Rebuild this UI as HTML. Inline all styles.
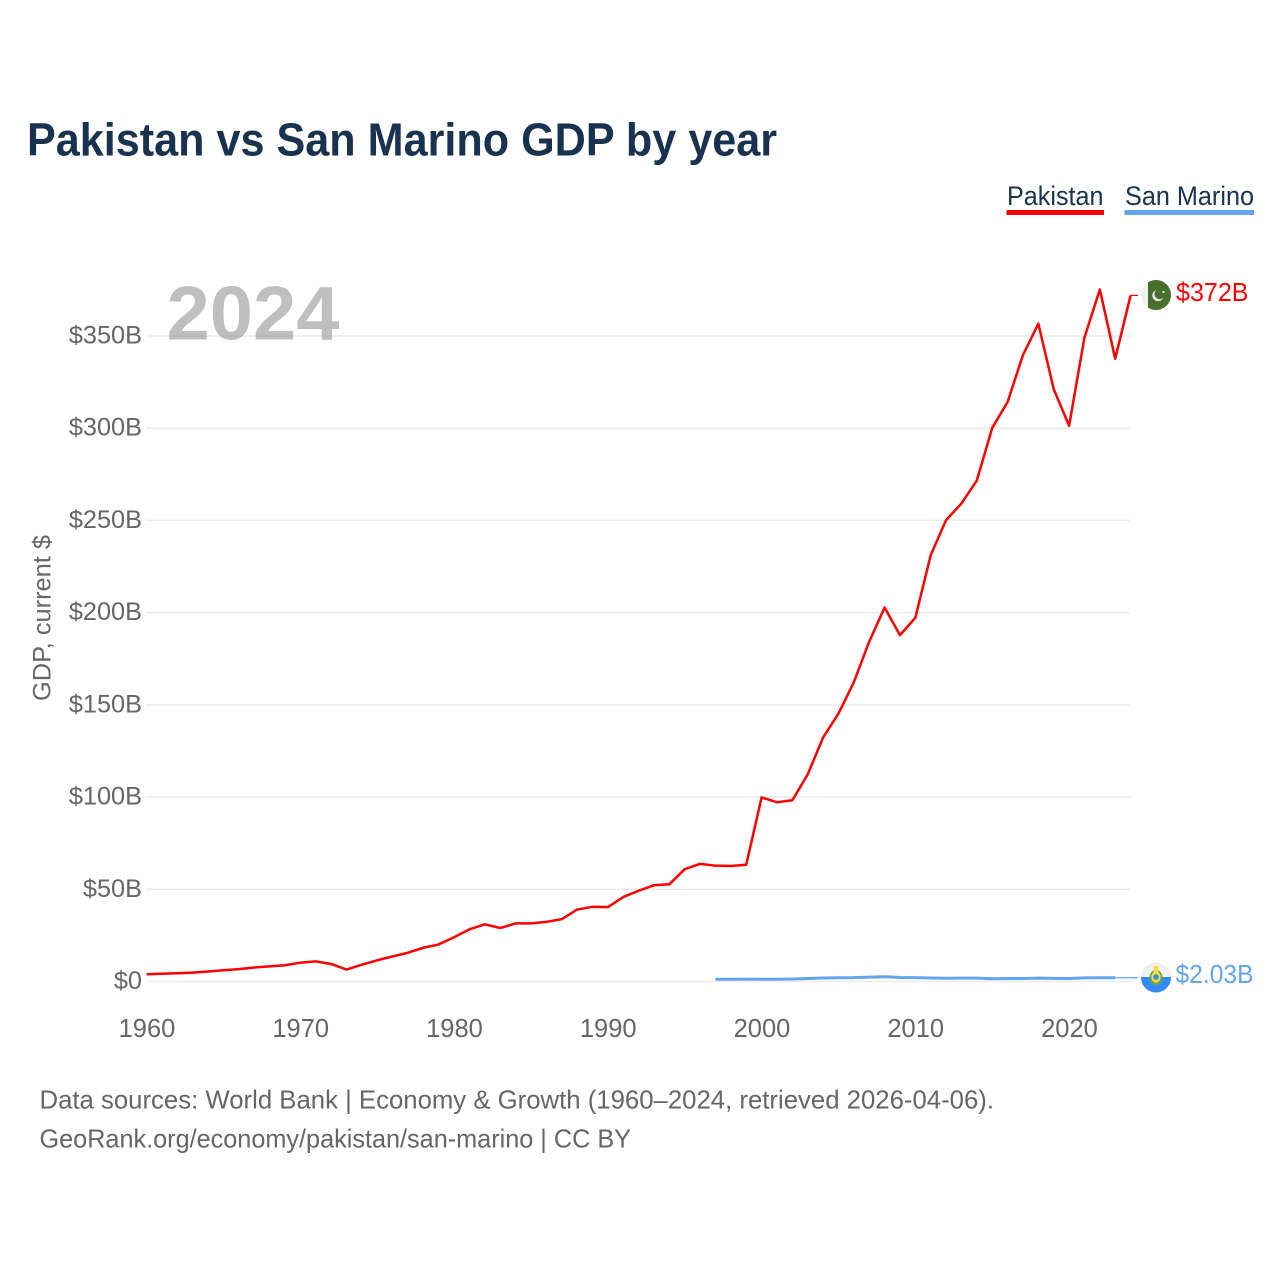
<!DOCTYPE html>
<html lang="en">
<head>
<meta charset="utf-8">
<title>Pakistan vs San Marino GDP by year</title>
<style>
html,body{margin:0;padding:0;background:#fff;}
svg{display:block;font-family:"Liberation Sans",sans-serif;}
</style>
</head>
<body>
<svg id="chart" width="1280" height="1280" viewBox="0 0 1280 1280" xmlns="http://www.w3.org/2000/svg">
  <defs>
    <clipPath id="clip-pk"><circle cx="1156" cy="295" r="15"/></clipPath>
    <clipPath id="clip-sm"><circle cx="1156" cy="977.5" r="15"/></clipPath>
  </defs>
  <text x="27" y="155.5" font-size="46" font-weight="700" fill="#18324f" textLength="750" lengthAdjust="spacingAndGlyphs">Pakistan vs San Marino GDP by year</text>
  <g id="grid"></g>
  <g id="yticks"></g>
  <g id="xticks"></g>
  <text x="166.5" y="339.5" font-size="76" font-weight="700" fill="#8a8a8a" fill-opacity="0.55" textLength="173" lengthAdjust="spacingAndGlyphs">2024</text>
  <text transform="translate(50.5,701) rotate(-90)" font-size="25" fill="#666" textLength="166" lengthAdjust="spacingAndGlyphs">GDP, current $</text>

  <g>
    <text x="1007" y="205" font-size="26.5" fill="#18324f" textLength="96.5" lengthAdjust="spacingAndGlyphs">Pakistan</text>
    <rect x="1006.5" y="210" width="97.5" height="5" fill="#ff0000"/>
  </g>
  <g>
    <text x="1125" y="205" font-size="26.5" fill="#18324f" textLength="129" lengthAdjust="spacingAndGlyphs">San Marino</text>
    <rect x="1124.5" y="210" width="129.5" height="5" fill="#62a5ee"/>
  </g>

  <path id="line-sm" fill="none" stroke="#62a5ee" stroke-width="3" stroke-linejoin="round"></path>
  <path id="line-pk" fill="none" stroke="#ff0000" stroke-width="2.5" stroke-linejoin="round"></path>
  <path id="conn-sm" fill="none" stroke="#62a5ee" stroke-width="1.2"></path>
  <path id="conn-pk" fill="none" stroke="#ff0000" stroke-width="1.2"></path>

  <g clip-path="url(#clip-pk)">
    <rect x="1141" y="280" width="30" height="30" fill="#f0f0f0"/>
    <rect x="1148" y="280" width="23" height="30" fill="#496e2d"/>
    <circle cx="1158" cy="295.5" r="5.6" fill="#f0f0f0"/>
    <circle cx="1159.6" cy="294" r="5.2" fill="#496e2d"/>
    <circle cx="1163.5" cy="292" r="1.1" fill="#f0f0f0"/>
  </g>
  <text id="label-pk" x="1176" y="301" font-size="25.5" fill="#ff0000" textLength="72.5" lengthAdjust="spacingAndGlyphs">$372B</text>

  <g clip-path="url(#clip-sm)">
    <rect x="1141" y="962" width="30" height="16" fill="#f0f0f0"/>
    <rect x="1141" y="977" width="30" height="16" fill="#338af3"/>
    <ellipse cx="1156" cy="977.5" rx="6.5" ry="7.5" fill="#6da544"/>
    <ellipse cx="1156" cy="977" rx="4.6" ry="5.6" fill="#ffda44"/>
    <circle cx="1156" cy="977" r="2.8" fill="#338af3"/>
    <rect x="1153.8" y="966" width="4.4" height="6" fill="#ffda44"/>
  </g>
  <text id="label-sm" x="1175.5" y="983" font-size="25.5" fill="#62a5ee" textLength="78" lengthAdjust="spacingAndGlyphs">$2.03B</text>

  <text x="39.5" y="1108.5" font-size="26" fill="#666" textLength="954.5" lengthAdjust="spacingAndGlyphs">Data sources: World Bank | Economy &amp; Growth (1960–2024, retrieved 2026-04-06).</text>
  <text x="39.5" y="1147.5" font-size="26" fill="#666" textLength="591.5" lengthAdjust="spacingAndGlyphs">GeoRank.org/economy/pakistan/san-marino | CC BY</text>
</svg>
<script>
const yTickValues = [0, 50, 100, 150, 200, 250, 300, 350];
const yTickLabels = ["$0", "$50B", "$100B", "$150B", "$200B", "$250B", "$300B", "$350B"];
const xTickYears = [1960, 1970, 1980, 1990, 2000, 2010, 2020];
const xTickLabels = ["1960", "1970", "1980", "1990", "2000", "2010", "2020"];
const pakistanStartYear = 1960;
const pakistanGdp = [3.9, 4.2, 4.5, 4.8, 5.4, 6.1, 6.7, 7.6, 8.2, 8.8, 10.2, 10.9, 9.5, 6.5, 9.1, 11.5, 13.6, 15.6, 18.3, 20.1, 24.0, 28.3, 31.0, 29.0, 31.5, 31.5, 32.3, 33.8, 39.0, 40.5, 40.3, 45.8, 49.2, 52.2, 52.7, 60.9, 63.8, 62.8, 62.6, 63.3, 99.8, 97.2, 98.3, 112.3, 132.3, 145.3, 162.3, 184.3, 202.8, 187.8, 197.2, 231.2, 250.2, 259.2, 271.7, 300.2, 314.2, 339.7, 356.7, 321.2, 301.3, 349.2, 375.2, 337.7, 372.0];
const sanMarinoStartYear = 1997;
const sanMarinoGdp = [1.2, 1.25, 1.3, 1.2, 1.25, 1.35, 1.6, 1.9, 2.0, 2.1, 2.4, 2.6, 2.2, 2.1, 1.9, 1.75, 1.8, 1.8, 1.5, 1.6, 1.65, 1.8, 1.7, 1.6, 1.95, 2.0, 2.03];

const svgNS = "http://www.w3.org/2000/svg";
function xScale(year) { return 146.6 + (year - 1960) * 15.375; }
function yScale(v) { return 981.5 - v * 1.8443; }
function linePath(start, values) {
  return values.map(function (v, i) {
    return (i ? "L" : "M") + xScale(start + i).toFixed(2) + " " + yScale(v).toFixed(2);
  }).join(" ");
}

const grid = document.getElementById("grid");
const yticks = document.getElementById("yticks");
yTickValues.forEach(function (v, i) {
  const ln = document.createElementNS(svgNS, "line");
  
  
  ln.setAttribute("x1", xScale(1960));
  ln.setAttribute("x2", xScale(2024));
  ln.setAttribute("y1", yScale(v));
  ln.setAttribute("y2", yScale(v));
  ln.setAttribute("stroke", "#ebebeb");
  ln.setAttribute("stroke-width", "1.5");
  grid.appendChild(ln);
  const t = document.createElementNS(svgNS, "text");
  
  
  t.setAttribute("x", 142);
  t.setAttribute("y", yScale(v) + 7.5);
  t.setAttribute("text-anchor", "end");
  t.setAttribute("font-size", "25.3");
  t.setAttribute("fill", "#666");
  t.textContent = yTickLabels[i];
  yticks.appendChild(t);
});

const xticks = document.getElementById("xticks");
xTickYears.forEach(function (yr, i) {
  const t = document.createElementNS(svgNS, "text");
  
  
  t.setAttribute("x", xScale(yr) + 0.4);
  t.setAttribute("y", 1037);
  t.setAttribute("text-anchor", "middle");
  t.setAttribute("font-size", "25.5");
  t.setAttribute("fill", "#666");
  t.textContent = xTickLabels[i];
  xticks.appendChild(t);
});

document.getElementById("line-pk").setAttribute("d", linePath(pakistanStartYear, pakistanGdp));
document.getElementById("line-sm").setAttribute("d", linePath(sanMarinoStartYear, sanMarinoGdp));

const pkLast = pakistanGdp[pakistanGdp.length - 1];
const smLast = sanMarinoGdp[sanMarinoGdp.length - 1];
const pkEndX = xScale(pakistanStartYear + pakistanGdp.length - 1);
const smEndX = xScale(sanMarinoStartYear + sanMarinoGdp.length - 1);
document.getElementById("conn-pk").setAttribute("d", "M" + pkEndX + " " + yScale(pkLast) + " L1138 " + yScale(pkLast));
document.getElementById("conn-sm").setAttribute("d", "M" + smEndX + " " + yScale(smLast) + " L1138 " + yScale(smLast));
</script>
</body>
</html>
